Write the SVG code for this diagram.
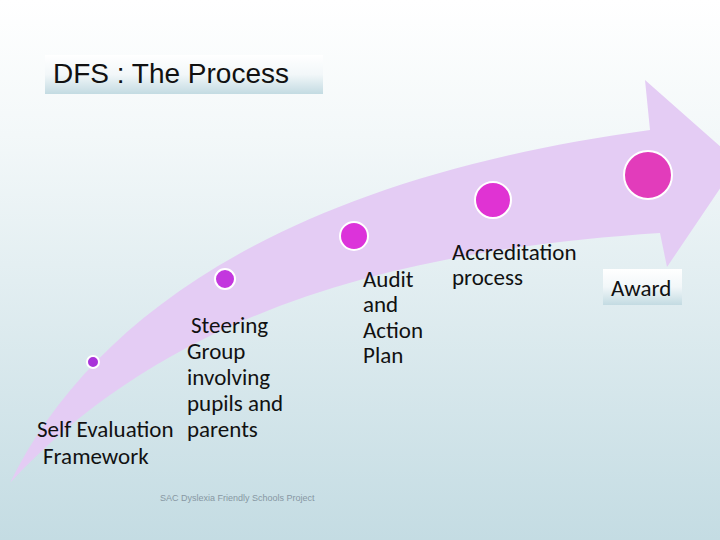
<svg xmlns="http://www.w3.org/2000/svg" width="720" height="540" viewBox="0 0 720 540">
<defs>
<linearGradient id="bg" x1="0" y1="0" x2="0" y2="1">
<stop offset="0" stop-color="#ffffff"/>
<stop offset="0.25" stop-color="#f3f8f9"/>
<stop offset="1" stop-color="#c4dce3"/>
</linearGradient>
<linearGradient id="box" x1="0" y1="0" x2="0" y2="1">
<stop offset="0" stop-color="#ffffff"/>
<stop offset="0.5" stop-color="#f2f7f9"/>
<stop offset="1" stop-color="#c3dbe2"/>
</linearGradient>
<style>
.lbl{font-family:Carlito,Lato,"Open Sans",sans-serif;font-size:23px;fill:#111}
.dot{stroke:#ffffff;stroke-width:2}
</style>
</defs>
<rect width="720" height="540" fill="url(#bg)"/>
<g id="connectors">
<path id="arrow" d="M10,483 C90,320 280,180 650,130 L645,80 L738,162 L667,267 L660,233 C400,250 170,310 10,483 Z" fill="#e4ccf4"/>
</g>
<g id="title">
<rect x="45" y="55" width="278" height="39" fill="url(#box)"/>
<text x="53" y="83" font-family="'Liberation Sans',Arial,sans-serif" font-size="28" fill="#111">DFS : The Process</text>
</g>
<g id="node-self-evaluation">
<circle class="dot" cx="93" cy="362" r="6" fill="#a933d9"/>
<text class="lbl" x="37" y="437">Self Evaluation</text>
<text class="lbl" x="43" y="464">Framework</text>
</g>
<g id="node-steering-group">
<circle class="dot" cx="225" cy="279" r="10" fill="#c337de"/>
<text class="lbl" x="191" y="333">Steering</text>
<text class="lbl" x="187" y="359">Group</text>
<text class="lbl" x="187" y="385">involving</text>
<text class="lbl" x="187" y="411">pupils and</text>
<text class="lbl" x="187" y="437">parents</text>
</g>
<g id="node-audit">
<circle class="dot" cx="354" cy="236" r="14" fill="#dc33da"/>
<text class="lbl" x="363" y="287">Audit</text>
<text class="lbl" x="363" y="312">and</text>
<text class="lbl" x="363" y="338">Action</text>
<text class="lbl" x="363" y="363">Plan</text>
</g>
<g id="node-accreditation">
<circle class="dot" cx="493" cy="200" r="18" fill="#e033d3"/>
<text class="lbl" x="452" y="260">Accreditation</text>
<text class="lbl" x="452" y="285">process</text>
</g>
<g id="node-award">
<circle class="dot" cx="648" cy="175" r="24" fill="#e23cbb"/>
<rect x="603" y="269" width="79" height="36" fill="url(#box)"/>
<text class="lbl" x="611" y="296">Award</text>
</g>
<text x="160" y="501" font-family="'Liberation Sans',Arial,sans-serif" font-size="9" fill="#8797a3">SAC Dyslexia Friendly Schools Project</text>
</svg>
